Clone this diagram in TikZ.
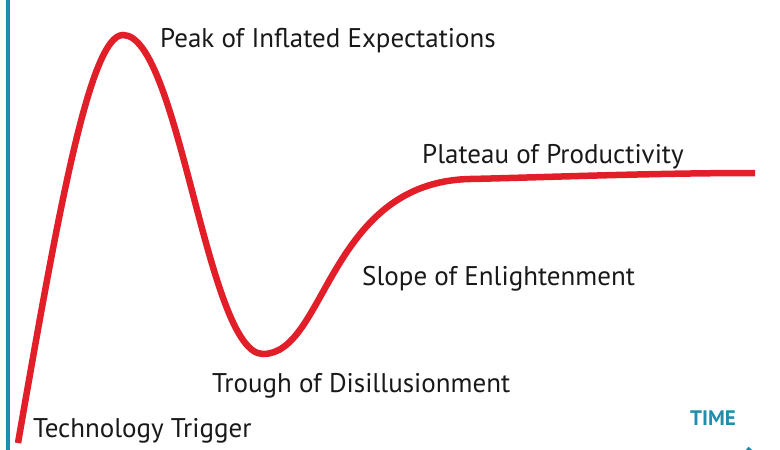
\documentclass[tikz,border=0pt]{standalone}
\usepackage{fontspec}
\setmainfont{PT Sans}
\usetikzlibrary{arrows.meta}
\definecolor{hypered}{RGB}{226,30,40}
\definecolor{axisteal}{RGB}{30,142,172}

\begin{document}
\begin{tikzpicture}[x=1pt, y=-1pt,
      phase/.style={anchor=base west, inner sep=0pt, text=black!90,
                    font=\fontsize{27}{31}\selectfont},
      hype/.style={draw=hypered, line width=6.5pt},
      axis/.style={draw=axisteal, line width=3.5pt}
    ]
    \useasboundingbox (0,0) rectangle (780,450);
    \clip (0,0) rectangle (780,450);

    % Achsen
    \draw[axis] (8,0) -- (8,457);
    \draw[axis, -{Straight Barb[length=10pt, width=18pt]}] (8,457) -- (760,457);
    \node[anchor=base west, inner sep=0pt, text=axisteal,
          font=\fontsize{21}{25}\selectfont\bfseries] (time) at (690,425) {TIME};

    % Hype-Kurve
    \draw[hype] (18,443)
      .. controls (58,213) and (90,35) .. (123,35)
      .. controls (179,35) and (207,354) .. (263,354)
      .. controls (326,354) and (328,182) .. (470,179)
      .. controls (540,177.5) and (650,173) .. (755,173);

    % Phasen
    \node[phase] (peak)    at (160,47)  {Peak of Inflated Expectations};
    \node[phase] (plateau) at (422,163) {Plateau of Productivity};
    \node[phase] (slope)   at (362,285) {Slope of Enlightenment};
    \node[phase] (trough)  at (212,392) {Trough of Disillusionment};
    \node[phase] (trigger) at (33,437)  {Technology Trigger};
  \end{tikzpicture}
\end{document}
